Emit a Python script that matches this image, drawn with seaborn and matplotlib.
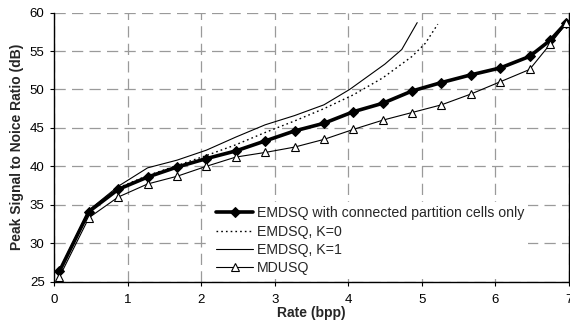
import numpy as np
import pandas as pd
import seaborn as sns
import matplotlib.pyplot as plt

sns.set_style('white')
plt.rcParams['font.family'] = ['Liberation Sans', 'DejaVu Sans']

# data
x_main = [0.07, 0.47, 0.87, 1.27, 1.67, 2.07, 2.47, 2.87, 3.27, 3.67, 4.07, 4.47, 4.87, 5.27, 5.67, 6.07, 6.47, 6.75, 6.97]
y_main = [26.35, 34.1, 37.0, 38.6, 39.9, 41.0, 42.0, 43.3, 44.6, 45.6, 47.1, 48.2, 49.8, 50.9, 51.9, 52.8, 54.3, 56.4, 58.7]
y_mdusq = [25.6, 33.3, 36.0, 37.7, 38.7, 40.0, 41.2, 41.8, 42.5, 43.5, 44.8, 46.0, 47.0, 48.0, 49.4, 51.0, 52.6, 55.9, 58.6]

x_k0 = [0.07, 0.47, 0.87, 1.27, 1.67, 2.07, 2.47, 2.87, 3.27, 3.67, 4.07, 4.47, 4.87, 5.05, 5.22]
y_k0 = [26.5, 34.2, 37.2, 38.8, 40.1, 41.4, 42.8, 44.4, 45.9, 47.5, 49.3, 51.5, 54.3, 56.0, 58.5]

x_k1 = [0.07, 0.47, 0.87, 1.27, 1.67, 2.07, 2.47, 2.87, 3.27, 3.67, 4.02, 4.5, 4.73, 4.94]
y_k1 = [26.5, 34.3, 37.4, 39.8, 40.8, 42.1, 43.8, 45.4, 46.6, 48.0, 50.0, 53.3, 55.2, 58.7]

labels = ['EMDSQ with connected partition cells only', 'EMDSQ, K=0', 'EMDSQ, K=1', 'MDUSQ']

fig = plt.figure(figsize=(5.7, 3.24), dpi=100)
ax = fig.add_axes([0.0953, 0.131, 0.9021, 0.830])

sns.lineplot(x=x_main, y=y_main, ax=ax, color='black', lw=2.6, marker='D', ms=5,
             mfc='black', mec='black', label=labels[0], sort=False, zorder=5)
sns.lineplot(x=x_k0, y=y_k0, ax=ax, color='black', lw=1.0, ls=(0, (1.2, 2.2)),
             label=labels[1], sort=False, zorder=4)
sns.lineplot(x=x_k1, y=y_k1, ax=ax, color='black', lw=0.8, label=labels[2],
             sort=False, zorder=4)
sns.lineplot(x=x_main, y=y_mdusq, ax=ax, color='black', lw=0.8, marker='^', ms=5.5,
             mfc='white', mec='black', mew=0.8, label=labels[3], sort=False, zorder=6)

ax.set_xlim(0, 7)
ax.set_ylim(25, 60)
ax.set_xticks(range(0, 8))
ax.set_yticks(range(25, 61, 5))
ax.grid(True, color='#9a9a9a', ls=(0, (9, 5)), lw=0.9)
ax.set_axisbelow(True)

for s in ['left', 'bottom', 'right']:
    ax.spines[s].set_color('black')
    ax.spines[s].set_linewidth(1.0)
ax.spines['top'].set_visible(False)

ax.tick_params(axis='both', which='major', direction='out', length=3, width=0.8,
               labelsize=9.5, colors='black', pad=4)
ax.tick_params(axis='x', pad=6)
ax.tick_params(left=True, bottom=True)

ax.set_xlabel('Rate (bpp)', fontsize=10, fontweight='bold', labelpad=0)
ax.set_ylabel('Peak Signal to Noice Ratio (dB)', fontsize=10, fontweight='bold', labelpad=4)

leg = ax.legend(loc='upper left', bbox_to_anchor=(0.3067, 0.2958), borderaxespad=0,
                fontsize=10.2, frameon=True, framealpha=1, facecolor='white',
                edgecolor='none', fancybox=False, handlelength=2.6,
                handletextpad=0.25, labelspacing=0.3, borderpad=0.3)
leg.set_zorder(10)

fig.savefig('out.png', dpi=100)
